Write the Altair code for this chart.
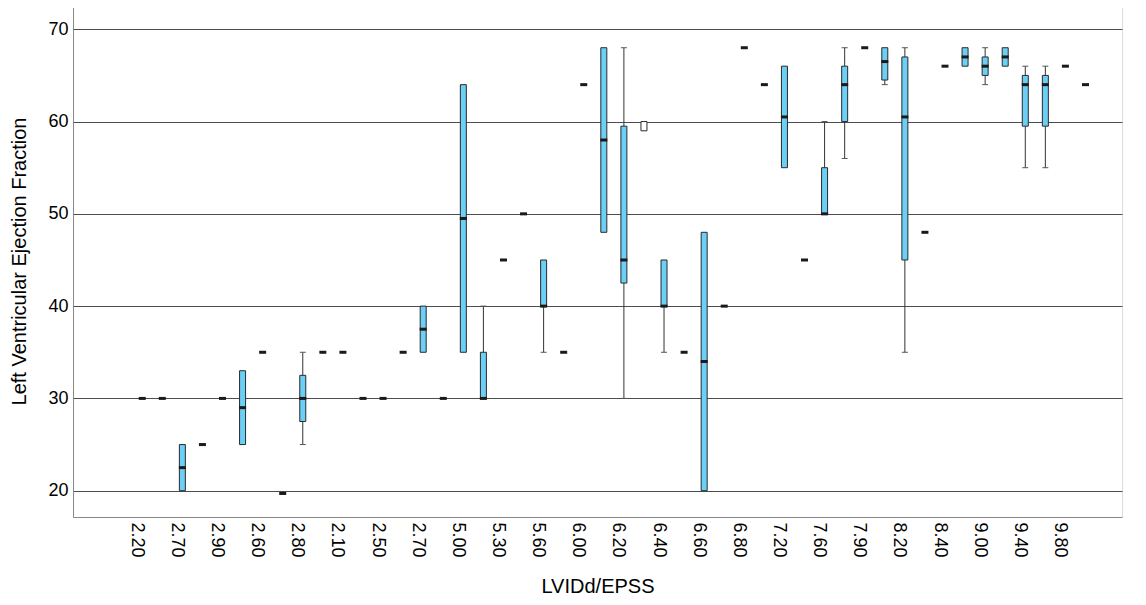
import altair as alt
import pandas as pd

# category positions (1..48) and the labels shown on every other category
idx = list(range(1, 49))
tick_labels = ["2.20", "2.70", "2.90", "2.60", "2.80", "2.10", "2.50", "2.70",
               "5.00", "5.30", "5.60", "6.00", "6.20", "6.40", "6.60", "6.80",
               "7.20", "7.60", "7.90", "8.20", "8.40", "9.00", "9.40", "9.80"]

lo  = [30,30,20,25,30,25,35,19.7,25,35,35,30,30,35,35,30,35,30,45,50,35,35,64,48,30,59,35,35,20,40,68,64,55,45,50,56,68,64,35,48,66,66,64,66,55,55,66,64]
q1  = [30,30,20,25,30,25,35,19.7,27.5,35,35,30,30,35,35,30,35,30,45,50,40,35,64,48,42.5,59,40,35,20,40,68,64,55,45,50,60,68,64.5,45,48,66,66,65,66,59.5,59.5,66,64]
med = [30,30,22.5,25,30,29,35,19.7,30,35,35,30,30,35,37.5,30,49.5,30,45,50,40,35,64,58,45,None,40,35,34,40,68,64,60.5,45,50,64,68,66.5,60.5,48,66,67,66,67,64,64,66,64]
q3  = [30,30,25,25,30,33,35,19.7,32.5,35,35,30,30,35,40,30,64,35,45,50,45,35,64,68,59.5,60,45,35,48,40,68,64,66,45,55,66,68,68,67,48,66,68,67,68,65,65,66,64]
hi  = [30,30,25,25,30,33,35,19.7,35,35,35,30,30,35,40,30,64,40,45,50,45,35,64,68,68,60,45,35,48,40,68,64,66,45,60,68,68,68,68,48,66,68,68,68,66,66,66,64]

df = pd.DataFrame({"idx": idx, "lo": lo, "q1": q1, "med": med, "q3": q3, "hi": hi})

FONT = "Liberation Sans"
label_tick_values = idx[0::2]
label_expr = "[" + ",".join("'%s'" % s for s in tick_labels) + "][(datum.value-1)/2]"

x_enc = alt.X("idx:Q",
              scale=alt.Scale(domain=[-2.2, 49.57], nice=False, zero=False),
              axis=alt.Axis(values=label_tick_values, labelExpr=label_expr,
                            labelAngle=90, labelFontSize=18, labelPadding=5,
                            labelOffset=-6,
                            ticks=False, grid=False, title="LVIDd/EPSS",
                            titleFontSize=20, titlePadding=19,
                            titleFontWeight="normal"))
y_scale = alt.Scale(domain=[17.15, 72.63], nice=False, zero=False)
y_axis = alt.Axis(values=[20, 30, 40, 50, 60, 70], labelFontSize=18, labelPadding=5,
                  ticks=False, grid=True, gridColor="#4d4d4d", gridWidth=1,
                  title="Left Ventricular Ejection Fraction", titleFontSize=20,
                  titlePadding=18, titleFontWeight="normal")

base = alt.Chart(df)

whisk_lo = base.transform_filter("datum.lo < datum.q1").mark_rule(
    color="#333333", strokeWidth=1).encode(
    x=x_enc, y=alt.Y("lo:Q", scale=y_scale, axis=y_axis), y2="q1:Q")
whisk_hi = base.transform_filter("datum.hi > datum.q3").mark_rule(
    color="#333333", strokeWidth=1).encode(
    x="idx:Q", y="q3:Q", y2="hi:Q")
cap_lo = base.transform_filter("datum.lo < datum.q1").mark_tick(
    orient="horizontal", size=6, thickness=1, color="#555555", opacity=1).encode(
    x="idx:Q", y="lo:Q")
cap_hi = base.transform_filter("datum.hi > datum.q3").mark_tick(
    orient="horizontal", size=6, thickness=1, color="#555555", opacity=1).encode(
    x="idx:Q", y="hi:Q")
box = base.transform_filter("datum.q3 > datum.q1").mark_bar(
    size=6, stroke="#2a2a2a", strokeWidth=1, opacity=1).encode(
    x="idx:Q", y="q1:Q", y2="q3:Q",
    fill=alt.condition("datum.med == null", alt.value("#ffffff"), alt.value("#6ccff6")))
median = base.transform_filter("datum.med != null").mark_tick(
    orient="horizontal", size=7, thickness=3, color="#1a1a1a", opacity=1).encode(
    x="idx:Q", y="med:Q")

chart = alt.layer(whisk_lo, whisk_hi, cap_lo, cap_hi, box, median).properties(
    width=1049, height=512,
    autosize=alt.AutoSizeParams(type="none"),
    padding={"left": 65, "top": -3, "right": 16, "bottom": 84},
).configure_view(stroke=None).configure_axis(
    domainColor="#333333", labelColor="#222222", titleColor="#222222",
    labelFont=FONT, titleFont=FONT,
).configure(background="white")

chart.save("out.html", embed_options={"renderer": "svg", "actions": False})
